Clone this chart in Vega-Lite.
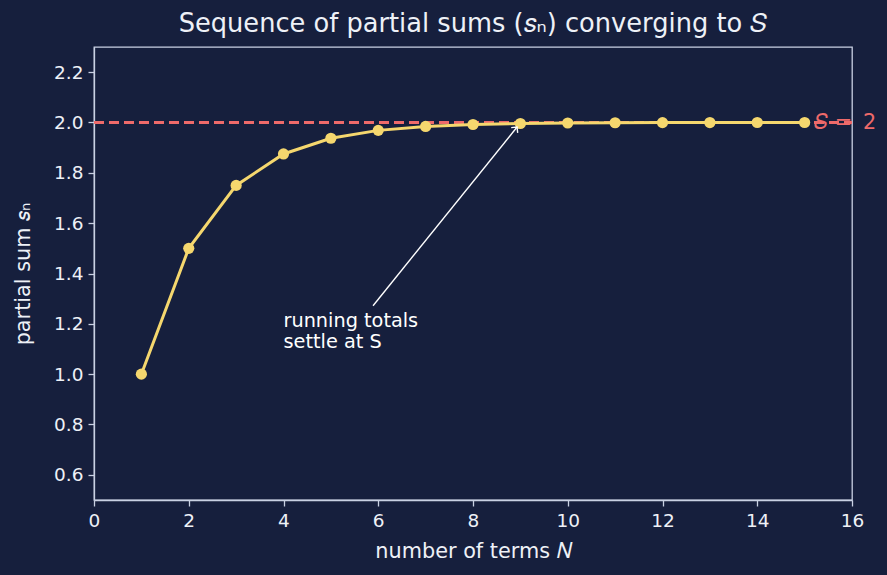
{
  "$schema": "https://vega.github.io/schema/vega-lite/v6.json",
  "autosize": {"type": "none"},
  "width": 758,
  "height": 453,
  "padding": {"left": 94, "top": 47, "right": 35, "bottom": 75},
  "background": "#161f3d",
  "title": {
    "text": "Sequence of partial sums (𝑠ₙ) converging to 𝑆",
    "font": "DejaVu Sans",
    "fontSize": 25.7,
    "fontWeight": "normal",
    "color": "#eef1f7",
    "offset": 9
  },
  "config": {
    "view": {"stroke": "#c9d1e3", "strokeWidth": 1.3},
    "axis": {
      "domainColor": "#c9d1e3",
      "domainWidth": 1.3,
      "tickColor": "#c9d1e3",
      "tickWidth": 1.3,
      "tickSize": 6,
      "grid": false,
      "labelFlush": false,
      "labelFont": "DejaVu Sans",
      "labelFontSize": 18.5,
      "labelColor": "#eef1f7",
      "labelPadding": 5,
      "titleFont": "DejaVu Sans",
      "titleFontSize": 20.8,
      "titleFontWeight": "normal",
      "titleColor": "#eef1f7"
    }
  },
  "datasets": {
    "sums": [
      {"N": 1, "s": 1.0},
      {"N": 2, "s": 1.5},
      {"N": 3, "s": 1.75},
      {"N": 4, "s": 1.875},
      {"N": 5, "s": 1.9375},
      {"N": 6, "s": 1.96875},
      {"N": 7, "s": 1.984375},
      {"N": 8, "s": 1.9921875},
      {"N": 9, "s": 1.99609375},
      {"N": 10, "s": 1.998046875},
      {"N": 11, "s": 1.9990234375},
      {"N": 12, "s": 1.99951171875},
      {"N": 13, "s": 1.999755859375},
      {"N": 14, "s": 1.9998779296875},
      {"N": 15, "s": 1.99993896484375}
    ]
  },
  "encoding": {
    "x": {
      "field": "N",
      "type": "quantitative",
      "scale": {"domain": [0, 16], "nice": false, "zero": false},
      "axis": {"values": [0, 2, 4, 6, 8, 10, 12, 14, 16], "title": "number of terms 𝑁", "titlePadding": 12}
    },
    "y": {
      "field": "s",
      "type": "quantitative",
      "scale": {"domain": [0.5, 2.3], "nice": false, "zero": false},
      "axis": {"values": [0.6, 0.8, 1.0, 1.2, 1.4, 1.6, 1.8, 2.0, 2.2], "format": ".1f", "title": "partial sum 𝑠ₙ", "titlePadding": 20}
    }
  },
  "layer": [
    {
      "data": {"values": [{"x0": 0, "x1": 16, "limit": 2}]},
      "mark": {"type": "rule", "color": "#ee6a6a", "strokeWidth": 2.8, "strokeDash": [10, 5]},
      "encoding": {
        "x": {"field": "x0", "type": "quantitative"},
        "x2": {"field": "x1"},
        "y": {"field": "limit", "type": "quantitative"}
      }
    },
    {
      "data": {"name": "sums"},
      "mark": {"type": "line", "color": "#f5d76e", "strokeWidth": 3}
    },
    {
      "data": {"name": "sums"},
      "mark": {"type": "point", "shape": "circle", "filled": true, "opacity": 1, "color": "#f5d76e", "size": 125}
    },
    {
      "data": {"values": [{"x": 15.2, "y": 2, "label": "𝑆 = \u20092"}]},
      "mark": {"type": "text", "align": "left", "baseline": "middle", "font": "DejaVu Sans", "fontSize": 20.8, "color": "#ee6a6a"},
      "encoding": {
        "x": {"field": "x", "type": "quantitative"},
        "y": {"field": "y", "type": "quantitative"},
        "text": {"field": "label"}
      }
    },
    {
      "data": {"values": [{"x": 5.89, "y": 1.272, "xe": 8.93, "ye": 1.982}]},
      "mark": {"type": "rule", "color": "#ffffff", "strokeWidth": 1.4},
      "encoding": {
        "x": {"field": "x", "type": "quantitative"},
        "y": {"field": "y", "type": "quantitative"},
        "x2": {"field": "xe"},
        "y2": {"field": "ye"}
      }
    },
    {
      "data": {"values": [{"xe": 8.93, "ye": 1.982}]},
      "mark": {"type": "point", "shape": "M-1,1L0,0L1,1", "filled": false, "stroke": "#ffffff", "strokeWidth": 1.4, "opacity": 1, "size": 70, "angle": 39},
      "encoding": {
        "x": {"field": "xe", "type": "quantitative"},
        "y": {"field": "ye", "type": "quantitative"}
      }
    },
    {
      "data": {"values": [{"x": 4, "y": 1.17, "note": ["running totals", "settle at S"]}]},
      "mark": {"type": "text", "align": "left", "baseline": "bottom", "font": "DejaVu Sans", "fontSize": 19.3, "lineHeight": 21, "color": "#ffffff"},
      "encoding": {
        "x": {"field": "x", "type": "quantitative"},
        "y": {"field": "y", "type": "quantitative"},
        "text": {"field": "note"}
      }
    }
  ]
}
